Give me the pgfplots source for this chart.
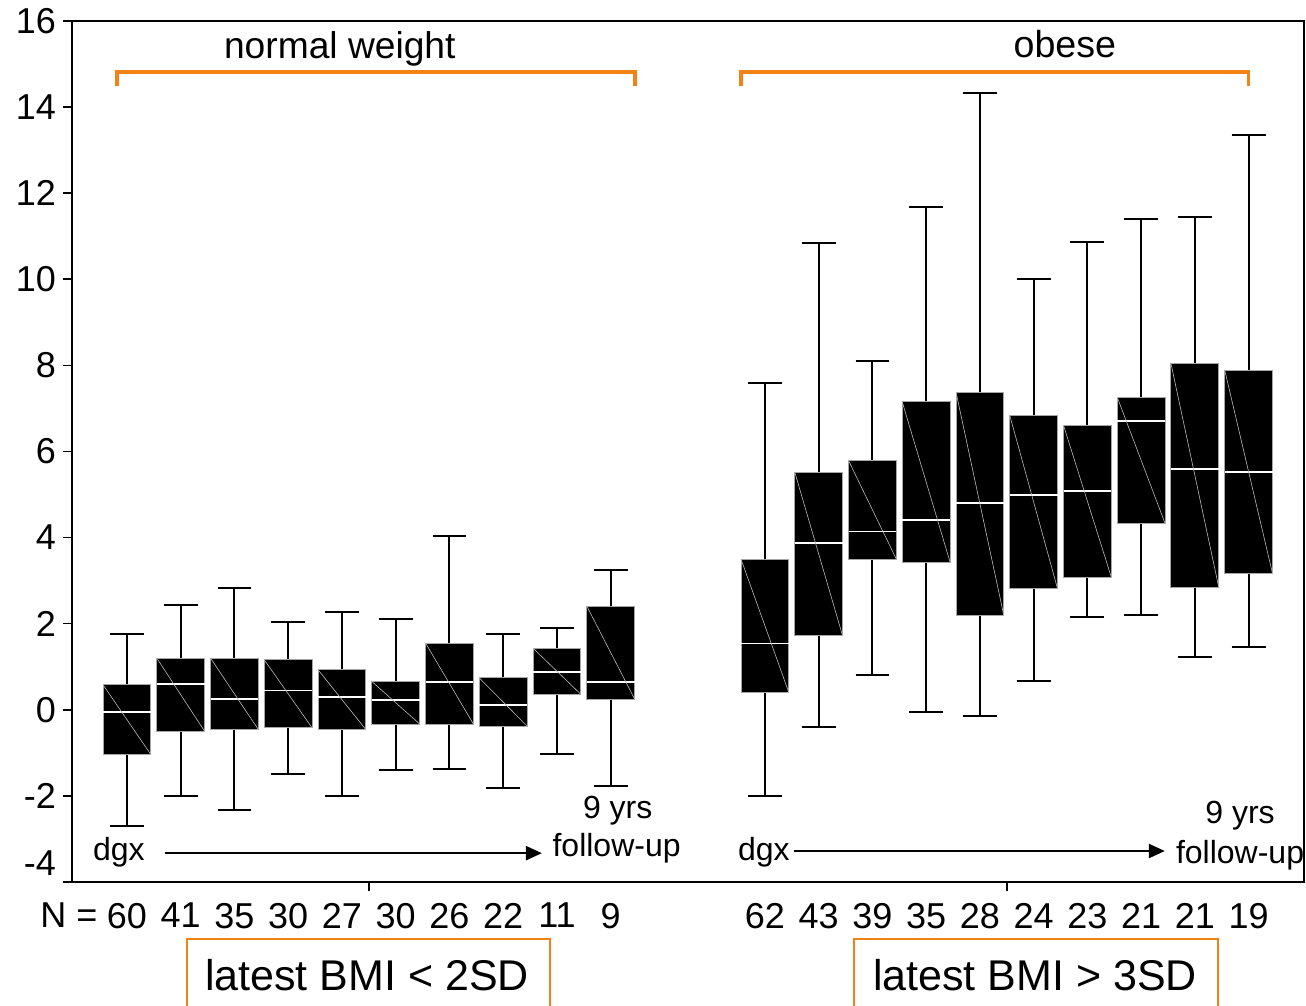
\documentclass[border=0pt]{standalone}
\usepackage{pgfplots}
\pgfplotsset{compat=1.18}
\usepgfplotslibrary{statistics}
\usetikzlibrary{arrows.meta}
\usepackage{fontspec}
\setmainfont{Liberation Sans}
\definecolor{org}{RGB}{242,130,20}
% pos, lower whisker, lower quartile, median, upper quartile, upper whisker
\newcommand{\bx}[6]{%
  \addplot[boxplot prepared={draw position=#1, lower whisker=#2, lower quartile=#3,
     median=#4, upper quartile=#5, upper whisker=#6, box extend=0.89, whisker extend=0.63},
     draw=gray!70, fill=black, line width=0.5pt] coordinates {};
  \pgfmathsetmacro\xl{#1-0.445}\pgfmathsetmacro\xr{#1+0.445}%
  \addplot[gray!55, line width=0.3pt] coordinates {(\xl,#5) (\xr,#3)};
}
\begin{document}
\begin{tikzpicture}
\begin{axis}[
  scale only axis, width=616pt, height=430.5pt,
  at={(0,0)}, anchor=south west,
  xmin=-0.023, xmax=22.9, ymin=-4, ymax=16,
  ytick={-2,0,...,16},
  extra y ticks={-4},
  extra y tick style={yticklabel style={yshift=9.5pt}},
  xtick={5.5,17.37}, xticklabels={},
  extra x ticks={1,2,3,4,5,6,7,8,9,10,12.87,13.87,14.87,15.87,16.87,17.87,18.87,19.87,20.87,21.87},
  extra x tick labels={60,41,35,30,27,30,26,22,11,9,62,43,39,35,28,24,23,21,21,19},
  extra x tick style={major tick length=0pt, xticklabel style={yshift=-7pt}},
  tick align=outside, major tick length=4.5pt,
  tick style={black, line width=0.8pt},
  xtick pos=bottom, ytick pos=left,
  axis line style={black, line width=0.9pt},
  tick label style={font=\fontsize{18}{21}\selectfont},
  /pgf/number format/assume math mode=true,
  boxplot/draw direction=y,
  boxplot/every whisker/.style={draw=black, line width=1pt},
  boxplot/every median/.style={draw=white, line width=0.9pt},
  clip=false,
]
% normal weight
\bx{1}{-2.70}{-1.04}{-0.06}{0.58}{1.77}
\bx{2}{-2.00}{-0.50}{0.60}{1.20}{2.43}
\bx{3}{-2.32}{-0.46}{0.26}{1.20}{2.82}
\bx{4}{-1.50}{-0.42}{0.45}{1.16}{2.03}
\bx{5}{-2.00}{-0.46}{0.29}{0.93}{2.27}
\bx{6}{-1.41}{-0.33}{0.22}{0.66}{2.12}
\bx{7}{-1.38}{-0.33}{0.64}{1.55}{4.03}
\bx{8}{-1.81}{-0.38}{0.11}{0.74}{1.77}
\bx{9}{-1.03}{0.36}{0.88}{1.43}{1.89}
\bx{10}{-1.77}{0.25}{0.64}{2.41}{3.25}
% obese
\bx{12.87}{-2.00}{0.40}{1.54}{3.50}{7.60}
\bx{13.87}{-0.41}{1.72}{3.87}{5.52}{10.84}
\bx{14.87}{0.81}{3.50}{4.14}{5.79}{8.10}
\bx{15.87}{-0.06}{3.43}{4.41}{7.15}{11.68}
\bx{16.87}{-0.14}{2.19}{4.80}{7.38}{14.32}
\bx{17.87}{0.67}{2.81}{4.99}{6.84}{10.00}
\bx{18.87}{2.16}{3.08}{5.08}{6.61}{10.86}
\bx{19.87}{2.20}{4.33}{6.71}{7.26}{11.41}
\bx{20.87}{1.23}{2.84}{5.59}{8.04}{11.45}
\bx{21.87}{1.47}{3.16}{5.53}{7.89}{13.35}
% brackets and titles
\draw[org, line width=1.8pt] (axis cs:0.814,14.49) -- (axis cs:0.814,14.81) -- (axis cs:10.45,14.81) -- (axis cs:10.45,14.49);
\draw[org, line width=1.8pt] (axis cs:12.42,14.49) -- (axis cs:12.42,14.81) -- (axis cs:21.87,14.81) -- (axis cs:21.87,14.49);
\node[anchor=base, font=\fontsize{18.6}{21}\selectfont] at (axis cs:4.96,15.12) {normal weight};
\node[anchor=base, font=\fontsize{18.8}{21}\selectfont] at (axis cs:18.45,15.16) {obese};
% time arrows
\node[anchor=base, font=\fontsize{16}{18}\selectfont] at (axis cs:0.85,-3.51) {dgx};
\draw[line width=1.2pt, -{Triangle[length=8pt,width=7pt]}] (axis cs:1.71,-3.33) -- (axis cs:8.72,-3.33);
\node[anchor=base, font=\fontsize{16}{18}\selectfont] at (axis cs:10.13,-2.53) {9 yrs};
\node[anchor=base, font=\fontsize{16}{18}\selectfont] at (axis cs:10.11,-3.40) {follow-up};
\node[anchor=base, font=\fontsize{16}{18}\selectfont] at (axis cs:12.85,-3.51) {dgx};
\draw[line width=1.2pt, -{Triangle[length=8pt,width=7pt]}] (axis cs:13.41,-3.28) -- (axis cs:20.31,-3.28);
\node[anchor=base, font=\fontsize{16}{18}\selectfont] at (axis cs:21.71,-2.65) {9 yrs};
\node[anchor=base, font=\fontsize{16}{18}\selectfont] at (axis cs:21.71,-3.56) {follow-up};
\node[anchor=base west, font=\fontsize{18}{21}\selectfont, inner sep=0pt] at (axis cs:-0.62,-5.05) {N =};
\end{axis}
\draw[org, line width=0.6pt] (57.5pt,-63pt) -- (57.5pt,-28.5pt) -- (239pt,-28.5pt) -- (239pt,-63pt);
\draw[org, line width=0.6pt] (391pt,-63pt) -- (391pt,-28.5pt) -- (573pt,-28.5pt) -- (573pt,-63pt);
\node[anchor=base, font=\fontsize{21.5}{25}\selectfont] at (147.5pt,-54.5pt) {latest BMI < 2SD};
\node[anchor=base, font=\fontsize{21.5}{25}\selectfont] at (481.5pt,-54.5pt) {latest BMI > 3SD};
\pgfresetboundingbox
\path[use as bounding box] (-36pt,-62pt) rectangle (617pt,441pt);
\end{tikzpicture}
\end{document}
